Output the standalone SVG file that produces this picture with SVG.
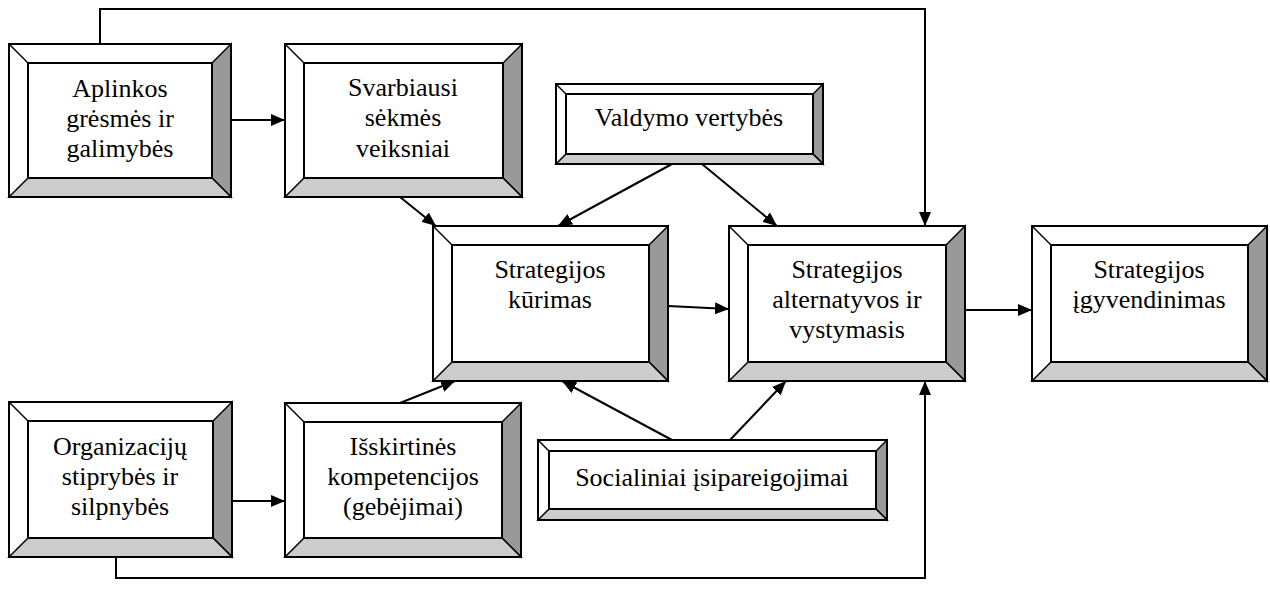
<svg xmlns="http://www.w3.org/2000/svg" width="1270" height="590" viewBox="0 0 1270 590">
  <defs>
    <marker id="arrow" viewBox="0 0 14 12" refX="14" refY="6" markerWidth="14" markerHeight="12" markerUnits="userSpaceOnUse" orient="auto">
      <path d="M0,0 L14,6 L0,12 z" fill="#000"/>
    </marker>
    <style>
      .frame { fill: none; stroke: #000; stroke-width: 2; }
      .face { fill: #fff; stroke: #000; stroke-width: 2; }
      .lit { fill: #fff; stroke: #000; stroke-width: 1.5; }
      .shade-r { fill: #999; stroke: #000; stroke-width: 1.5; }
      .shade-b { fill: #ccc; stroke: #000; stroke-width: 1.5; }
      .conn { fill: none; stroke: #000; stroke-width: 2; }
    </style>
  </defs>
  <rect width="1270" height="590" fill="#fff"/>

  <!-- connectors -->
  <g id="connectors">
    <polyline class="conn" points="100,44 100,9 925,9 925,226" marker-end="url(#arrow)"/>
    <polyline class="conn" points="116,557 116,578 925,578 925,381" marker-end="url(#arrow)"/>
    <line class="conn" x1="231" y1="120" x2="285" y2="120" marker-end="url(#arrow)"/>
    <line class="conn" x1="232" y1="501" x2="285" y2="501" marker-end="url(#arrow)"/>
    <line class="conn" x1="400" y1="197" x2="436" y2="226" marker-end="url(#arrow)"/>
    <line class="conn" x1="672" y1="164" x2="558" y2="226" marker-end="url(#arrow)"/>
    <line class="conn" x1="702" y1="164" x2="777" y2="226" marker-end="url(#arrow)"/>
    <line class="conn" x1="668" y1="306" x2="729" y2="309" marker-end="url(#arrow)"/>
    <line class="conn" x1="965" y1="310" x2="1032" y2="310" marker-end="url(#arrow)"/>
    <line class="conn" x1="400" y1="403" x2="455" y2="381" marker-end="url(#arrow)"/>
    <line class="conn" x1="672" y1="440" x2="562" y2="381" marker-end="url(#arrow)"/>
    <line class="conn" x1="730" y1="440" x2="786" y2="381" marker-end="url(#arrow)"/>
  </g>

  <g font-family="'Liberation Serif', 'DejaVu Serif', serif" font-size="26" text-anchor="middle" fill="#000">
  <!-- Aplinkos grėsmės ir galimybės -->
  <g id="aplinkos">
    <rect class="lit" x="9" y="44" width="222" height="153"/>
    <polygon class="shade-r" points="231,44 231,197 212,178 212,63"/>
    <polygon class="shade-b" points="9,197 231,197 212,178 28,178"/>
    <line class="lit" x1="9" y1="44" x2="28" y2="63"/>
    <rect class="face" x="28" y="63" width="184" height="115"/>
    <rect class="frame" x="9" y="44" width="222" height="153"/>
    <text x="120" y="97">Aplinkos</text>
    <text x="120" y="127">grėsmės ir</text>
    <text x="120" y="157">galimybės</text>
  </g>

  <!-- Svarbiausi sėkmės veiksniai -->
  <g id="svarbiausi">
    <rect class="lit" x="285" y="44" width="237" height="153"/>
    <polygon class="shade-r" points="522,44 522,197 503,178 503,63"/>
    <polygon class="shade-b" points="285,197 522,197 503,178 304,178"/>
    <line class="lit" x1="285" y1="44" x2="304" y2="63"/>
    <rect class="face" x="304" y="63" width="199" height="115"/>
    <rect class="frame" x="285" y="44" width="237" height="153"/>
    <text x="403" y="96">Svarbiausi</text>
    <text x="403" y="126">sėkmės</text>
    <text x="403" y="157">veiksniai</text>
  </g>

  <!-- Valdymo vertybės -->
  <g id="valdymo">
    <rect class="lit" x="556" y="84" width="267" height="80"/>
    <polygon class="shade-r" points="823,84 823,164 813,154 813,94"/>
    <polygon class="shade-b" points="556,164 823,164 813,154 566,154"/>
    <line class="lit" x1="556" y1="84" x2="566" y2="94"/>
    <rect class="face" x="566" y="94" width="247" height="60"/>
    <rect class="frame" x="556" y="84" width="267" height="80"/>
    <text x="689" y="126">Valdymo vertybės</text>
  </g>

  <!-- Strategijos kūrimas -->
  <g id="kurimas">
    <rect class="lit" x="433" y="226" width="235" height="155"/>
    <polygon class="shade-r" points="668,226 668,381 649,362 649,245"/>
    <polygon class="shade-b" points="433,381 668,381 649,362 452,362"/>
    <line class="lit" x1="433" y1="226" x2="452" y2="245"/>
    <rect class="face" x="452" y="245" width="197" height="117"/>
    <rect class="frame" x="433" y="226" width="235" height="155"/>
    <text x="550" y="278">Strategijos</text>
    <text x="550" y="308">kūrimas</text>
  </g>

  <!-- Strategijos alternatyvos ir vystymasis -->
  <g id="alternatyvos">
    <rect class="lit" x="729" y="226" width="236" height="155"/>
    <polygon class="shade-r" points="965,226 965,381 946,362 946,245"/>
    <polygon class="shade-b" points="729,381 965,381 946,362 748,362"/>
    <line class="lit" x1="729" y1="226" x2="748" y2="245"/>
    <rect class="face" x="748" y="245" width="198" height="117"/>
    <rect class="frame" x="729" y="226" width="236" height="155"/>
    <text x="847" y="278">Strategijos</text>
    <text x="847" y="308">alternatyvos ir</text>
    <text x="847" y="338">vystymasis</text>
  </g>

  <!-- Strategijos įgyvendinimas -->
  <g id="igyvendinimas">
    <rect class="lit" x="1032" y="226" width="235" height="155"/>
    <polygon class="shade-r" points="1267,226 1267,381 1248,362 1248,245"/>
    <polygon class="shade-b" points="1032,381 1267,381 1248,362 1051,362"/>
    <line class="lit" x1="1032" y1="226" x2="1051" y2="245"/>
    <rect class="face" x="1051" y="245" width="197" height="117"/>
    <rect class="frame" x="1032" y="226" width="235" height="155"/>
    <text x="1149" y="278">Strategijos</text>
    <text x="1149" y="308">įgyvendinimas</text>
  </g>

  <!-- Organizacijų stiprybės ir silpnybės -->
  <g id="organizaciju">
    <rect class="lit" x="9" y="402" width="223" height="155"/>
    <polygon class="shade-r" points="232,402 232,557 213,538 213,421"/>
    <polygon class="shade-b" points="9,557 232,557 213,538 28,538"/>
    <line class="lit" x1="9" y1="402" x2="28" y2="421"/>
    <rect class="face" x="28" y="421" width="185" height="117"/>
    <rect class="frame" x="9" y="402" width="223" height="155"/>
    <text x="120" y="455">Organizacijų</text>
    <text x="120" y="485">stiprybės ir</text>
    <text x="120" y="515">silpnybės</text>
  </g>

  <!-- Išskirtinės kompetencijos (gebėjimai) -->
  <g id="isskirtines">
    <rect class="lit" x="285" y="403" width="236" height="154"/>
    <polygon class="shade-r" points="521,403 521,557 502,538 502,422"/>
    <polygon class="shade-b" points="285,557 521,557 502,538 304,538"/>
    <line class="lit" x1="285" y1="403" x2="304" y2="422"/>
    <rect class="face" x="304" y="422" width="198" height="116"/>
    <rect class="frame" x="285" y="403" width="236" height="154"/>
    <text x="403" y="455">Išskirtinės</text>
    <text x="403" y="485">kompetencijos</text>
    <text x="403" y="515">(gebėjimai)</text>
  </g>

  <!-- Socialiniai įsipareigojimai -->
  <g id="socialiniai">
    <rect class="lit" x="538" y="440" width="349" height="80"/>
    <polygon class="shade-r" points="887,440 887,520 876,509 876,451"/>
    <polygon class="shade-b" points="538,520 887,520 876,509 549,509"/>
    <line class="lit" x1="538" y1="440" x2="549" y2="451"/>
    <rect class="face" x="549" y="451" width="327" height="58"/>
    <rect class="frame" x="538" y="440" width="349" height="80"/>
    <text x="712" y="486">Socialiniai įsipareigojimai</text>
  </g>
  </g>
</svg>
